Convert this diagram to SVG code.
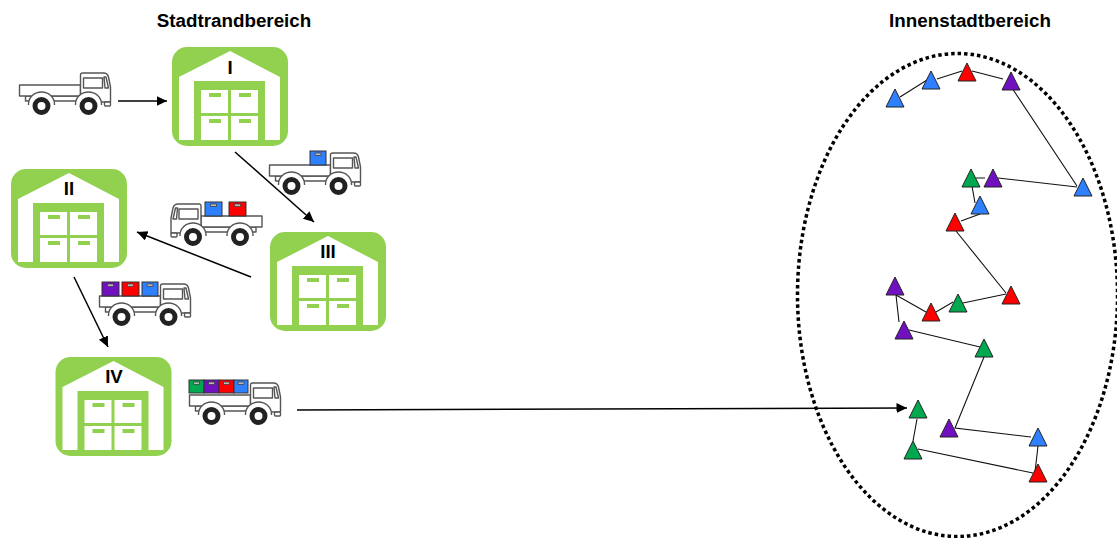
<svg xmlns="http://www.w3.org/2000/svg" width="1117" height="538" viewBox="0 0 1117 538">
<style>
.h{font:bold 18.8px "Liberation Sans",Arial,sans-serif;fill:#000;text-anchor:middle}
.n{font:bold 18.67px "Liberation Sans",Arial,sans-serif;fill:#000;text-anchor:middle}
.g{fill:#92d050}.w{fill:#fff}
.t{fill:#fff;stroke:#555;stroke-width:1.4;stroke-linejoin:round}
.box{stroke:#333;stroke-width:1}
.a{stroke:#000;stroke-width:1.5;fill:none;marker-end:url(#ah)}
.l{stroke:#111;stroke-width:1.1;fill:none}
.tri{stroke:#222;stroke-width:1;stroke-linejoin:round}
.b{fill:#2f80ff}.r{fill:#ff0000}.p{fill:#7010c0}.e{fill:#00a850}
</style>
<defs>
<marker id="ah" markerUnits="userSpaceOnUse" markerWidth="12" markerHeight="11" refX="10.500" refY="5" orient="auto"><path d="M0,0L10.500,5L0,10Z" fill="#000"/></marker>
<symbol id="wh" width="117" height="99" viewBox="0 0 117 99" overflow="visible">
<rect width="116" height="99" rx="15" class="g"/>
<path class="w" d="M58,4L108,30V93H7V30Z"/>
<rect class="g" x="22" y="34" width="71" height="60"/>
<path class="w" d="M29,43h27v23h-27zM59,43h27v23h-27zM29,69h27v24h-27zM59,69h27v24h-27z"/>
<path class="g" d="M37,46h12v4h-12zM67,46h12v4h-12zM37,72h12v4h-12zM67,72h12v4h-12z"/>
</symbol>
<g id="truck">
<path class="t" d="M6,23V28H64V23Z"/>
<rect class="t" x="0" y="12" width="61" height="11"/>
<path class="t" d="M61,28V2Q61,0 63,0H84Q88,0 89,4L91,14V29H61Z"/>
<path class="t" d="M64,5H83V15H64ZM84.500,4H86.500L89,15H85.500Z"/>
<rect class="t" x="85" y="29" width="6" height="4" rx="1"/>
<path class="t" d="M9,32V31A13,12 0 0 1 35,31V32M56,32V31A13,12 0 0 1 82,31V32"/>
<circle cx="22" cy="33" r="6.500" fill="#fff" stroke="#222" stroke-width="5"/>
<circle cx="69" cy="33" r="6.500" fill="#fff" stroke="#222" stroke-width="5"/>
</g>
<path id="tr" d="M0,0L9,18H-9Z"/>
<path id="hd" d="M-3,2h6v2.500h-6z" fill="#bbb" stroke="#333" stroke-width=".7"/>
</defs>

<text class="h" x="234" y="27">Stadtrandbereich</text>
<text class="h" x="970" y="27">Innenstadtbereich</text>

<ellipse id="zone" cx="957.500" cy="295" rx="160" ry="241.500" fill="none" stroke="#000" stroke-width="3.500" stroke-dasharray="3.500 3"/>

<g id="wh1"><use href="#wh" x="172" y="47"/><text class="n" x="230" y="74">I</text></g>
<g id="wh2"><use href="#wh" x="11" y="169"/><text class="n" x="69" y="195">II</text></g>
<g id="wh3"><use href="#wh" x="270" y="232"/><text class="n" x="328" y="258">III</text></g>
<g id="wh4"><use href="#wh" x="55.500" y="357"/><text class="n" x="114" y="383">IV</text></g>

<g id="truck1"><use href="#truck" x="19.500" y="73"/></g>
<g id="truck2"><use href="#truck" x="269.500" y="153"/>
<rect class="box b" x="310" y="151" width="16" height="14"/><use href="#hd" x="318" y="151"/></g>
<g id="truck3"><use href="#truck" transform="translate(262,204) scale(-1,1)"/>
<rect class="box b" x="205" y="202" width="17" height="14"/><use href="#hd" x="213.500" y="202"/>
<rect class="box r" x="229" y="202" width="17" height="14"/><use href="#hd" x="237.500" y="202"/></g>
<g id="truck4"><use href="#truck" x="99.500" y="284"/>
<rect class="box p" x="102" y="282" width="17" height="14"/><use href="#hd" x="110.500" y="282"/>
<rect class="box r" x="122" y="282" width="17" height="14"/><use href="#hd" x="130.500" y="282"/>
<rect class="box b" x="142" y="282" width="16" height="14"/><use href="#hd" x="150" y="282"/></g>
<g id="truck5"><use href="#truck" x="189.500" y="383"/>
<rect class="box e" x="189" y="380" width="15" height="13"/><use href="#hd" x="196.500" y="380"/>
<rect class="box p" x="204" y="380" width="15" height="13"/><use href="#hd" x="211.500" y="380"/>
<rect class="box r" x="219" y="380" width="15" height="13"/><use href="#hd" x="226.500" y="380"/>
<rect class="box b" x="234" y="380" width="14" height="13"/><use href="#hd" x="241" y="380"/></g>

<g id="connectors">
<path class="a" d="M118,101H167"/>
<path class="a" d="M235,152L314,222"/>
<path class="a" d="M251,277L137,232"/>
<path class="a" d="M74,277L108,347"/>
<path class="a" d="M297,410L907,408"/>
<path class="l" d="M900,97L927,80M937,79L962,71M972,71L1003,79M1012,88L1077,186M998,178L1077,187M976,178H985M972,186L975,203M980,214L961,221M956,231L1006,293M1006,294L963,303M953,302L936,312M926,312L896,295L899,322M909,330L980,347M984,357L955,428L1031,437M1038,446L1035,472M1033,473L918,449M913,441L917,419"/>
</g>

<g id="stops">
<use href="#tr" class="tri b" x="895" y="89"/>
<use href="#tr" class="tri b" x="931" y="71"/>
<use href="#tr" class="tri r" x="967" y="63"/>
<use href="#tr" class="tri p" x="1011" y="72"/>
<use href="#tr" class="tri b" x="1083" y="178"/>
<use href="#tr" class="tri e" x="971" y="169"/>
<use href="#tr" class="tri p" x="993" y="169"/>
<use href="#tr" class="tri b" x="980" y="196"/>
<use href="#tr" class="tri r" x="955" y="213"/>
<use href="#tr" class="tri r" x="1011" y="286"/>
<use href="#tr" class="tri e" x="958" y="294"/>
<use href="#tr" class="tri r" x="931" y="303"/>
<use href="#tr" class="tri p" x="895" y="277"/>
<use href="#tr" class="tri p" x="904" y="321"/>
<use href="#tr" class="tri e" x="984" y="339"/>
<use href="#tr" class="tri p" x="949" y="419"/>
<use href="#tr" class="tri b" x="1038" y="428"/>
<use href="#tr" class="tri r" x="1038" y="464"/>
<use href="#tr" class="tri e" x="913" y="441"/>
<use href="#tr" class="tri e" x="918" y="400"/>
</g>
</svg>
